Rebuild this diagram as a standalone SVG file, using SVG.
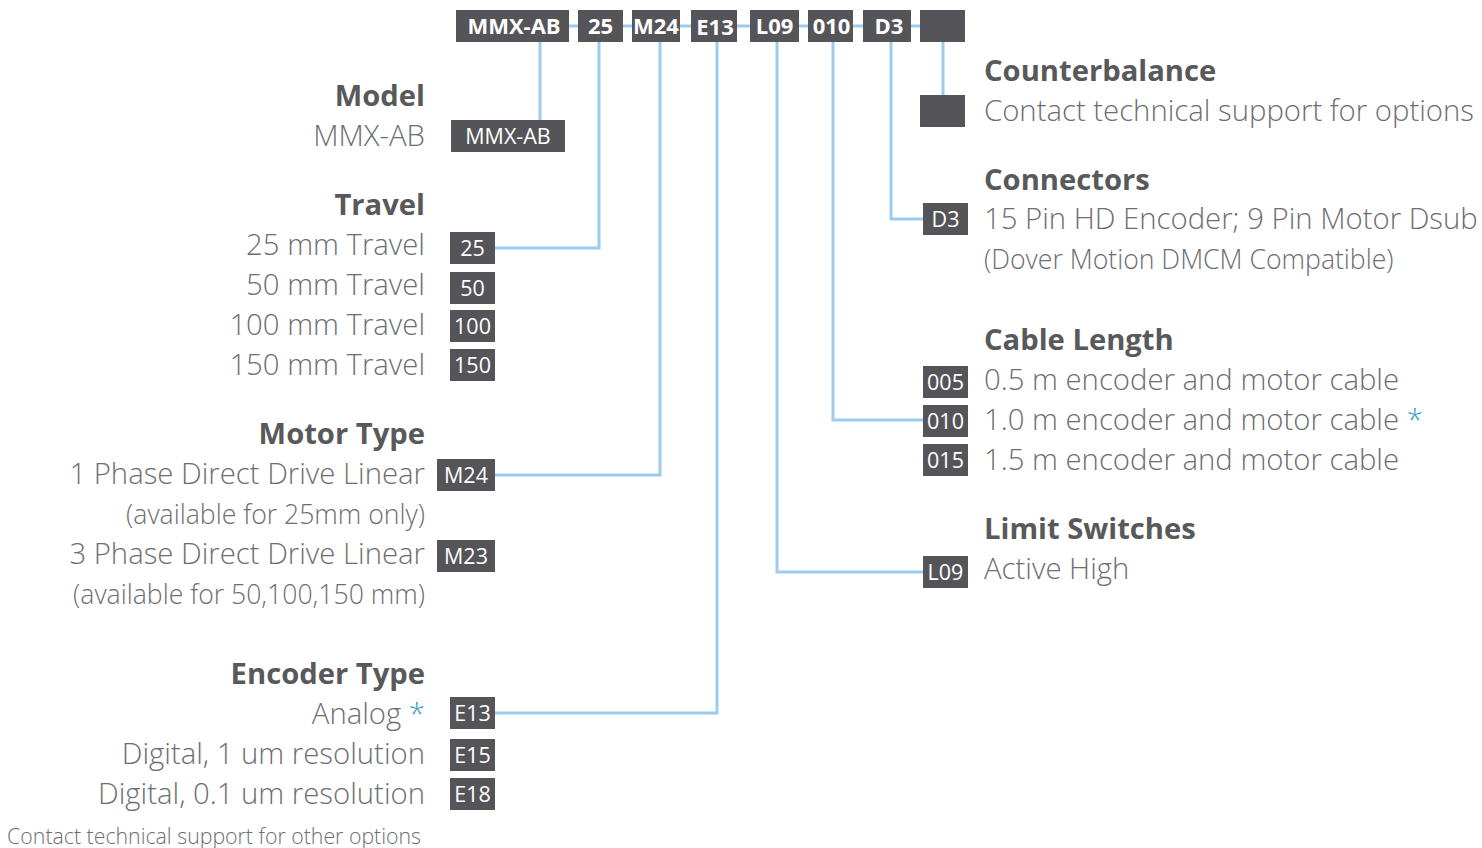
<svg xmlns="http://www.w3.org/2000/svg" width="1482" height="848" viewBox="0 0 1482 848">
<style>
.box{fill:#555559}
.tb{font-family:"Open Sans","Liberation Sans",sans-serif;font-weight:700;font-size:22px;fill:#fff;text-anchor:middle}
.bl{font-family:"Open Sans","Liberation Sans",sans-serif;font-weight:400;font-size:21.5px;fill:#fff;text-anchor:middle}
.h{font-family:"Open Sans","Liberation Sans",sans-serif;font-weight:700;font-size:29.2px;fill:#58595b}
.t{font-family:"Open Sans","Liberation Sans",sans-serif;font-weight:300;font-size:29.3px;fill:#6d6e71}
.s{font-family:"Open Sans","Liberation Sans",sans-serif;font-weight:300;font-size:26.6px;fill:#6d6e71}
.r{text-anchor:end}
.star{fill:#3d9cc4}
.ln{fill:none;stroke:#9ccbed;stroke-width:3}
</style>
<g id="connectors">
<line class="ln" x1="540" y1="26" x2="943" y2="26"/>
<polyline class="ln" points="540,40 540,122"/>
<polyline class="ln" points="599,40 599,248 494,248"/>
<polyline class="ln" points="660,40 660,475 494,475"/>
<polyline class="ln" points="717,40 717,713 494,713"/>
<polyline class="ln" points="777,40 777,572 923,572"/>
<polyline class="ln" points="833,40 833,420 923,420"/>
<polyline class="ln" points="891,40 891,219 923,219"/>
<polyline class="ln" points="943,40 943,96"/>
</g>
<g id="part-number">
<g id="pn-model"><rect class="box" x="456" y="10" width="113" height="32"/><text class="tb" x="514" y="34">MMX-AB</text></g>
<g id="pn-travel"><rect class="box" x="578" y="10" width="45" height="32"/><text class="tb" x="600.5" y="34">25</text></g>
<g id="pn-motor"><rect class="box" x="632" y="10" width="48" height="32"/><text class="tb" x="656" y="34">M24</text></g>
<g id="pn-encoder"><rect class="box" x="691" y="10" width="46" height="32"/><text class="tb" x="715" y="35">E13</text></g>
<g id="pn-limit"><rect class="box" x="750" y="10" width="49" height="32"/><text class="tb" x="774.5" y="34">L09</text></g>
<g id="pn-cable"><rect class="box" x="808" y="10" width="45" height="32"/><text class="tb" x="831.5" y="34">010</text></g>
<g id="pn-connector"><rect class="box" x="863" y="10" width="48" height="32"/><text class="tb" x="889" y="34">D3</text></g>
<g id="pn-counter"><rect class="box" x="920" y="10" width="45" height="32"/></g>
</g>
<g id="model">
<text class="h r" x="425" y="106">Model</text>
<text class="t r" x="425" y="146">MMX-AB</text>
<rect class="box" x="451" y="120" width="114" height="32"/><text class="bl" x="508" y="144">MMX-AB</text>
</g>
<g id="travel">
<text class="h r" x="425" y="215">Travel</text>
<text class="t r" x="425" y="255">25 mm Travel</text>
<text class="t r" x="425" y="295">50 mm Travel</text>
<text class="t r" x="425" y="335">100 mm Travel</text>
<text class="t r" x="425" y="375">150 mm Travel</text>
<rect class="box" x="450" y="232" width="45" height="32"/><text class="bl" x="472.5" y="256">25</text>
<rect class="box" x="450" y="272" width="45" height="32"/><text class="bl" x="472.5" y="296">50</text>
<rect class="box" x="450" y="310" width="45" height="32"/><text class="bl" x="472.5" y="334">100</text>
<rect class="box" x="450" y="349" width="45" height="32"/><text class="bl" x="472.5" y="373">150</text>
</g>
<g id="motor">
<text class="h r" x="425" y="444">Motor Type</text>
<text class="t r" x="425" y="484">1 Phase Direct Drive Linear</text>
<text class="s r" x="425" y="524">(available for 25mm only)</text>
<text class="t r" x="425" y="564">3 Phase Direct Drive Linear</text>
<text class="s r" x="425" y="604">(available for 50,100,150 mm)</text>
<rect class="box" x="437" y="459" width="58" height="32"/><text class="bl" x="466" y="483">M24</text>
<rect class="box" x="437" y="540" width="58" height="32"/><text class="bl" x="466" y="564">M23</text>
</g>
<g id="encoder">
<text class="h r" x="425" y="684">Encoder Type</text>
<text class="t r" x="425" y="724">Analog <tspan class="star">*</tspan></text>
<text class="t r" x="425" y="764">Digital, 1 um resolution</text>
<text class="t r" x="425" y="804">Digital, 0.1 um resolution</text>
<text class="t r" x="421" y="844" style="font-size:21.3px">Contact technical support for other options</text>
<rect class="box" x="450" y="697" width="45" height="32"/><text class="bl" x="472.5" y="721">E13</text>
<rect class="box" x="450" y="739" width="45" height="32"/><text class="bl" x="472.5" y="763">E15</text>
<rect class="box" x="450" y="778" width="45" height="32"/><text class="bl" x="472.5" y="802">E18</text>
</g>
<g id="counterbalance">
<text class="h" x="984" y="81">Counterbalance</text>
<text class="t" x="984" y="121">Contact technical support for options</text>
<rect class="box" x="920" y="95" width="45" height="32"/>
</g>
<g id="connectors-opt">
<text class="h" x="984" y="190">Connectors</text>
<text class="t" x="984" y="229">15 Pin HD Encoder; 9 Pin Motor Dsub</text>
<text class="s" x="984" y="269">(Dover Motion DMCM Compatible)</text>
<rect class="box" x="923" y="203" width="45" height="32"/><text class="bl" x="945.5" y="227">D3</text>
</g>
<g id="cable">
<text class="h" x="984" y="350">Cable Length</text>
<text class="t" x="984" y="390">0.5 m encoder and motor cable</text>
<text class="t" x="984" y="430">1.0 m encoder and motor cable <tspan class="star">*</tspan></text>
<text class="t" x="984" y="470">1.5 m encoder and motor cable</text>
<rect class="box" x="923" y="366" width="45" height="32"/><text class="bl" x="945.5" y="390">005</text>
<rect class="box" x="923" y="405" width="45" height="32"/><text class="bl" x="945.5" y="429">010</text>
<rect class="box" x="923" y="444" width="45" height="32"/><text class="bl" x="945.5" y="468">015</text>
</g>
<g id="limit">
<text class="h" x="984" y="539">Limit Switches</text>
<text class="t" x="984" y="579">Active High</text>
<rect class="box" x="923" y="556" width="45" height="32"/><text class="bl" x="945.5" y="580">L09</text>
</g>
</svg>
